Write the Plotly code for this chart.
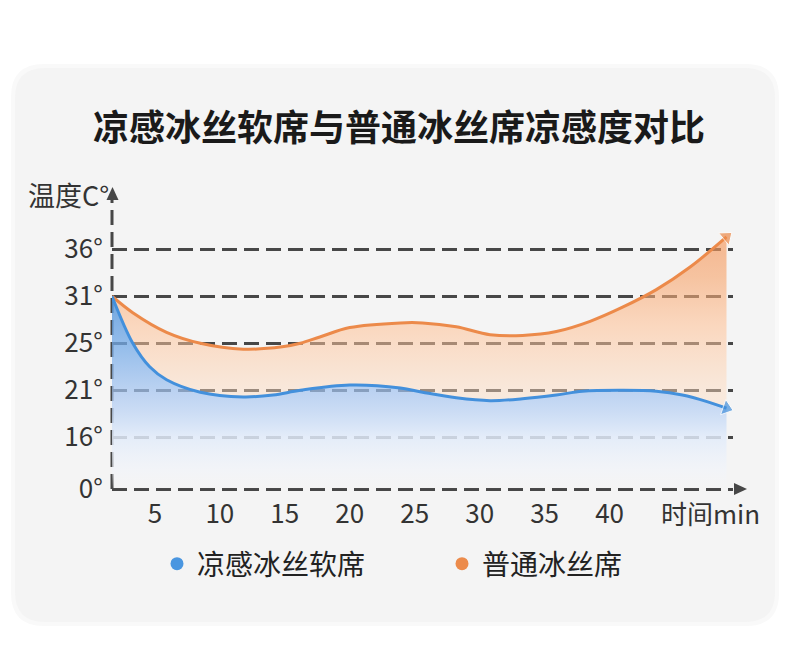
import numpy as np
import plotly.graph_objects as go

# 温度刻度：数值不等距，但图上等间隔排布
temp_ticks = [0, 16, 21, 25, 31, 36]
tick_text = ['0°', '16°', '21°', '25°', '31°', '36°']
tick_levels = [0, 1.1, 2.1, 3.1, 4.1, 5.1]

x_ticks = [5, 10, 15, 20, 25, 30, 35, 40]

# 凉感冰丝软席（分钟, 温度）
cool_min = [1.7, 3.3, 4.6, 5.9, 8.5, 11.8, 14.1, 16.2, 20.0, 23.9, 25.6,
            28.2, 30.8, 33.3, 35.9, 37.9, 41.0, 43.6, 45.6, 47.5, 49.0]
cool_temp = [31.0, 25.0, 23.0, 21.9, 20.8, 20.3, 20.5, 21.0, 21.45, 21.2, 20.8,
             20.2, 19.9, 20.1, 20.5, 20.9, 21.0, 20.9, 20.5, 19.8, 19.1]

# 普通冰丝席
normal_min = [1.7, 3.3, 5.9, 8.5, 11.8, 14.8, 16.2, 17.7, 20.0, 23.9, 25.6,
              28.2, 30.8, 33.3, 35.9, 38.5, 41.0, 43.6, 46.2, 49.0]
normal_temp = [31.0, 28.9, 26.4, 25.0, 24.5, 24.7, 25.0, 25.8, 27.0, 27.6, 27.6,
               27.1, 26.1, 26.0, 26.5, 27.8, 29.6, 31.7, 34.1, 37.3]

BLUE = '#4390dc'
ORANGE = '#ec8a4a'
AXIS = '#474747'
FONT = 'Noto Sans CJK SC'

OFF = 8  # 页面 body 的默认边距
W, H = 790 - OFF, 669 - OFF


def to_level(t):
    # 温度 -> 图上的刻度位置（分段线性）
    return np.interp(t, temp_ticks + [41], tick_levels + [6.1])


# 绘图区在窗口里的像素位置，用来放装饰元素
L, R, T, B = 112, 733, 188, 491


def px(x):
    return (x - L) / (R - L)


def py(y):
    return (B - y) / (B - T)


def round_rect(x0, y0, x1, y1, r):
    return (f"M {px(x0 + r)},{py(y0)} L {px(x1 - r)},{py(y0)} "
            f"Q {px(x1)},{py(y0)} {px(x1)},{py(y0 + r)} "
            f"L {px(x1)},{py(y1 - r)} Q {px(x1)},{py(y1)} {px(x1 - r)},{py(y1)} "
            f"L {px(x0 + r)},{py(y1)} Q {px(x0)},{py(y1)} {px(x0)},{py(y1 - r)} "
            f"L {px(x0)},{py(y0 + r)} Q {px(x0)},{py(y0)} {px(x0 + r)},{py(y0)} Z")


cool_y = to_level(cool_temp)
normal_y = to_level(normal_temp)

fig = go.Figure()

# 蓝色渐变填充
fig.add_trace(go.Scatter(
    x=cool_min, y=cool_y, mode='lines', line=dict(width=0, shape='spline'),
    fill='tozeroy',
    fillgradient=dict(type='vertical', start=0, stop=4.1, colorscale=[
        [0, 'rgba(244,246,251,0)'],
        [0.1, 'rgba(240,244,251,0.55)'],
        [0.27, 'rgba(225,235,250,0.85)'],
        [0.49, 'rgba(167,198,241,0.7)'],
        [0.73, 'rgba(119,172,232,0.75)'],
        [1, 'rgba(77,145,216,0.8)']]),
    showlegend=False, hoverinfo='skip'))

# 橙色填充到蓝线
fig.add_trace(go.Scatter(
    x=normal_min, y=normal_y, mode='lines+markers',
    line=dict(color=ORANGE, width=3, shape='spline'),
    marker=dict(symbol='triangle-up', angleref='previous', color=ORANGE,
                size=[0] * (len(normal_min) - 1) + [14]),
    fill='tonexty',
    fillgradient=dict(type='vertical', start=2.0, stop=5.3, colorscale=[
        [0, 'rgba(255,220,192,0.45)'],
        [0.45, 'rgba(255,191,146,0.55)'],
        [0.76, 'rgba(247,162,104,0.6)'],
        [1, 'rgba(244,150,90,0.65)']]),
    cliponaxis=False, showlegend=False, hoverinfo='skip'))

# 蓝线放最上面
fig.add_trace(go.Scatter(
    x=cool_min, y=cool_y, mode='lines+markers',
    line=dict(color=BLUE, width=3, shape='spline'),
    marker=dict(symbol='triangle-up', angleref='previous', color=BLUE,
                size=[0] * (len(cool_min) - 1) + [14]),
    cliponaxis=False, showlegend=False, hoverinfo='skip'))

# 图例
fig.add_trace(go.Scatter(x=[None], y=[None], mode='markers', name='凉感冰丝软席',
                         marker=dict(color='#4a96e0', size=13)))
fig.add_trace(go.Scatter(x=[None], y=[None], mode='markers', name='普通冰丝席',
                         marker=dict(color='#ec8b4b', size=13)))

shapes = [
    # 卡片外一圈淡阴影
    dict(type='path', xref='paper', yref='paper', layer='below',
         path=round_rect(11, 64, 779, 626, 33), fillcolor='#f9f9f9', line=dict(width=0)),
    # 灰色圆角卡片
    dict(type='path', xref='paper', yref='paper', layer='below',
         path=round_rect(15, 68, 775, 622, 30), fillcolor='#f4f4f4', line=dict(width=0)),
    # y 轴虚线
    dict(type='line', xref='paper', yref='paper', layer='below',
         x0=0, x1=0, y0=py(489), y1=py(199),
         line=dict(color=AXIS, width=3, dash='15px,7px')),
    # 箭头
    dict(type='path', xref='paper', yref='paper',
         path=f"M {px(112.5)},{py(187)} L {px(106.5)},{py(200)} L {px(118.5)},{py(200)} Z",
         fillcolor=AXIS, line=dict(width=0)),
    dict(type='path', xref='paper', yref='paper',
         path=f"M {px(747)},{py(489)} L {px(734)},{py(483)} L {px(734)},{py(495)} Z",
         fillcolor=AXIS, line=dict(width=0)),
]

annotations = [
    dict(text='温度C°', x=px(111), y=py(194), xref='paper', yref='paper',
         xanchor='right', yanchor='middle', showarrow=False,
         font=dict(size=27, color='#333333')),
    dict(text='时间min', x=px(659), y=py(512), xref='paper', yref='paper',
         xanchor='left', yanchor='middle', showarrow=False,
         font=dict(size=26, color='#333333')),
]

fig.update_layout(
    width=W, height=H,
    margin=dict(l=L - OFF, r=W - (R - OFF), t=T - OFF, b=H - (B - OFF)),
    paper_bgcolor='white', plot_bgcolor='rgba(0,0,0,0)',
    font=dict(family=FONT, color='#333333'),
    title=dict(text='凉感冰丝软席与普通冰丝席凉感度对比', x=0.5 * 790 / W - 0.5 * OFF / W,
               xanchor='center', y=1 - (128 - OFF) / H, yanchor='middle', yref='container',
               font=dict(size=36, color='#1a1a1a', weight=700)),
    shapes=shapes, annotations=annotations,
    legend=dict(orientation='h', x=px(157), y=py(539), xanchor='left', yanchor='top',
                traceorder='normal',
                font=dict(size=28, color='#222222'), bgcolor='rgba(0,0,0,0)',
                entrywidth=240, entrywidthmode='pixels'),
    hovermode=False,
)

fig.update_xaxes(range=[1.7, 49.5], tickvals=x_ticks, showgrid=False, zeroline=False,
                 showline=False, ticks='outside', ticklen=0, tickcolor='rgba(0,0,0,0)',
                 tickfont=dict(size=26, color='#333333'))
fig.update_yaxes(range=[-0.04, 6.4], tickvals=tick_levels, ticktext=tick_text,
                 showgrid=True, gridcolor=AXIS, gridwidth=3, griddash='15px,7px',
                 zeroline=False, showline=False, ticks='outside', ticklen=3,
                 tickcolor='rgba(0,0,0,0)', tickfont=dict(size=26, color='#333333'))

fig.write_html("out.html")
